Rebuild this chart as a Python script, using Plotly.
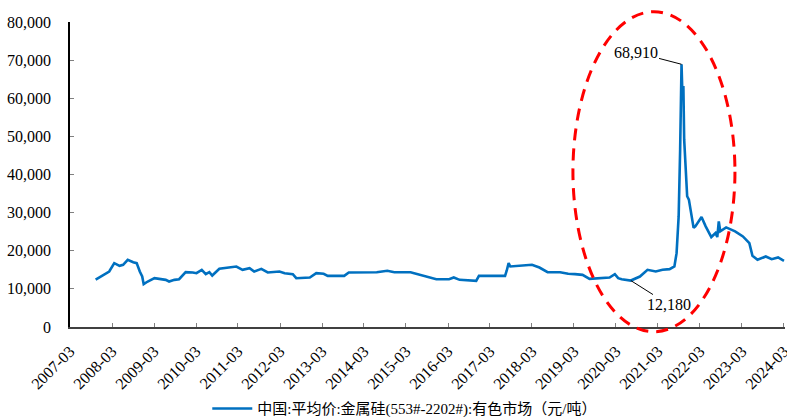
import plotly.graph_objects as go

dates = [
    "2007-10-10", "2007-12-15", "2008-02-05", "2008-03-20", "2008-05-05", "2008-06-05",
    "2008-07-15", "2008-09-01", "2008-10-01", "2008-10-28", "2008-11-18", "2008-12-01",
    "2009-01-05", "2009-03-05", "2009-06-10", "2009-07-10", "2009-08-25", "2009-10-05",
    "2009-12-01", "2010-02-01", "2010-03-05", "2010-04-20", "2010-05-25", "2010-06-25",
    "2010-07-20", "2010-09-20", "2010-11-15", "2011-02-15", "2011-04-10", "2011-06-10",
    "2011-07-20", "2011-09-20", "2011-11-15", "2012-02-25", "2012-04-10", "2012-06-20",
    "2012-07-20", "2012-11-15", "2013-01-10", "2013-03-15", "2013-04-20", "2013-09-10",
    "2013-10-20", "2014-01-20", "2014-03-20", "2014-06-20", "2014-09-20", "2014-11-20",
    "2015-04-10", "2015-07-20", "2015-11-20", "2016-03-10", "2016-04-20", "2016-06-10",
    "2016-09-05", "2016-11-01", "2016-11-25", "2017-07-10", "2017-07-25", "2017-08-10",
    "2017-08-25", "2017-11-20", "2018-03-01", "2018-05-05", "2018-07-15", "2018-11-01",
    "2019-01-10", "2019-03-10", "2019-05-15", "2019-07-15", "2019-11-05", "2020-01-05",
    "2020-02-20", "2020-03-20", "2020-04-20", "2020-07-08", "2020-09-25", "2020-11-30",
    "2021-02-10", "2021-04-10", "2021-06-10", "2021-07-22", "2021-08-10", "2021-08-28",
    "2021-09-10", "2021-09-22", "2021-09-30", "2021-10-08", "2021-10-15", "2021-10-25",
    "2021-11-01", "2021-11-10", "2021-11-25", "2022-01-05", "2022-01-20", "2022-03-15",
    "2022-04-20", "2022-06-08", "2022-07-15", "2022-07-30", "2022-08-12", "2022-08-25",
    "2022-10-15", "2023-01-01", "2023-03-10", "2023-05-05", "2023-06-01", "2023-07-15",
    "2023-09-25", "2023-11-15", "2024-01-10", "2024-03-01",
]
prices = [
    12400, 13700, 14550, 16760, 16050, 16300,
    17630, 17000, 16750, 14550, 13250, 11230,
    11930, 12800, 12370, 11930, 12370, 12540,
    14380, 14300, 14120, 15000, 13860, 14380,
    13500, 15260, 15440, 15870, 15000, 15440,
    14550, 15260, 14300, 14550, 14120, 13860,
    12800, 12980, 14120, 13950, 13420, 13420,
    14300, 14300, 14380, 14380, 14740, 14380,
    14380, 13500, 12540, 12540, 12980, 12370,
    12100, 12100, 13420, 13420, 14820, 16760,
    15870, 16050, 16320, 15600, 14380, 14380,
    13950, 13860, 13680, 12630, 12800, 12980,
    13860, 12800, 12540, 12180, 13240, 15000,
    14550, 15000, 15170, 15870, 19370, 29000,
    46600, 68910, 60600, 63200, 49200, 43950,
    40500, 34300, 33400, 26000, 26400, 28860,
    26400, 23600, 24650, 23600, 27700, 25080,
    26130, 25080, 23760, 22000, 18680, 17630,
    18500, 17800, 18240, 17370,
]

series_name = "中国:平均价:金属硅(553#-2202#):有色市场（元/吨）"
tick_dates = [f"{y}-03-01" for y in range(2007, 2025)]
tick_labels = [f"{y}-03" for y in range(2007, 2025)]
y_ticks = [0, 10000, 20000, 30000, 40000, 50000, 60000, 70000, 80000]
y_labels = ["0", "10,000", "20,000", "30,000", "40,000", "50,000", "60,000", "70,000", "80,000"]

peak_date, peak_val = "2021-09-22", 68910
low_date, low_val = "2020-07-08", 12180

serif = "Times New Roman, Liberation Serif, DejaVu Serif, serif"

fig = go.Figure()
fig.add_trace(go.Scatter(
    x=dates, y=prices, mode="lines", name=series_name,
    line=dict(color="#0070C0", width=2.6),
))

fig.add_annotation(
    x=peak_date, y=peak_val, text=f"{peak_val:,}", showarrow=True,
    arrowhead=0, arrowwidth=1, arrowcolor="black", ax=-46, ay=-12,
    font=dict(family=serif, size=16, color="black"),
)
fig.add_annotation(
    x=low_date, y=low_val, text=f"{low_val:,}", showarrow=True,
    arrowhead=0, arrowwidth=1, arrowcolor="black", ax=38, ay=24,
    font=dict(family=serif, size=16, color="black"),
)

fig.add_shape(
    type="circle", xref="paper", yref="paper",
    x0=0.7034, x1=0.930, y0=-0.0154, y1=1.0338,
    line=dict(color="#FF0000", width=3, dash="12px,8px"),
)

fig.update_layout(
    width=787, height=417,
    margin=dict(l=70, r=2, t=22, b=90, autoexpand=False),
    paper_bgcolor="white", plot_bgcolor="white",
    font=dict(family=serif, size=16, color="black"),
    showlegend=True,
    legend=dict(
        orientation="h", x=0.192, xanchor="left", y=-0.268, yanchor="middle",
        font=dict(family="Times New Roman, Liberation Serif, Noto Sans CJK SC", size=15, color="black"),
        itemwidth=40,
    ),
    xaxis=dict(
        type="date", range=["2007-03-01", "2024-03-10"], automargin=False,
        tickvals=tick_dates, ticktext=tick_labels, tickangle=-45,
        ticklabeloverflow="allow",
        ticks="inside", ticklen=4, tickcolor="#808080",
        showline=True, linecolor="#404040", linewidth=1.5,
        showgrid=False, zeroline=False,
        ticklabelstandoff=7,
        tickfont=dict(family=serif, size=16, color="black"),
    ),
    yaxis=dict(
        range=[0, 80000], tickvals=y_ticks, ticktext=y_labels, automargin=False,
        ticks="inside", ticklen=4, tickcolor="#808080",
        showline=True, linecolor="black", linewidth=1.5,
        showgrid=False, zeroline=False,
        ticklabelstandoff=14,
        tickfont=dict(family=serif, size=16, color="black"),
    ),
)

fig.write_html("out.html")
